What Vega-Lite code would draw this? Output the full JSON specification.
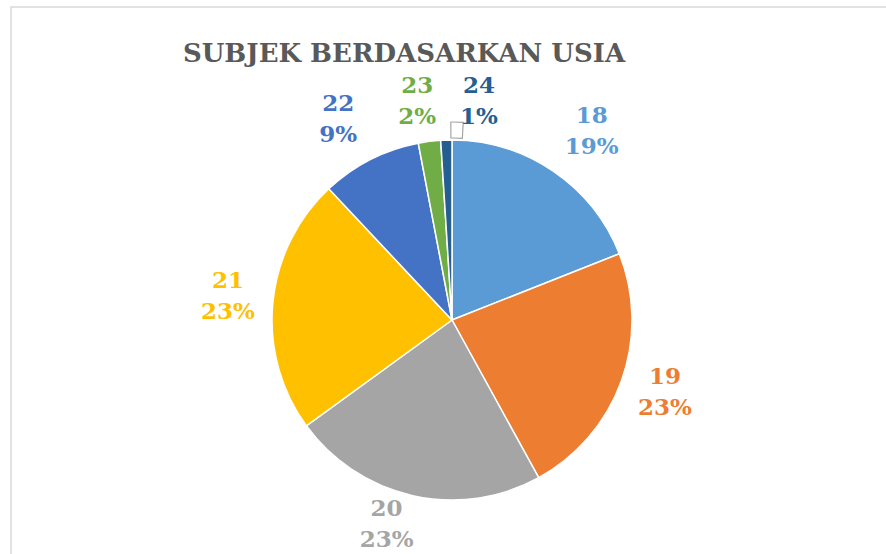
{
  "$schema": "https://vega.github.io/schema/vega-lite/v6.json",
  "autosize": "none",
  "width": 882,
  "height": 626,
  "padding": {"left": 11, "top": 7, "right": 0, "bottom": 0},
  "background": "white",
  "view": {"stroke": "#d9d9d9", "strokeWidth": 1.5},
  "title": {
    "text": "SUBJEK BERDASARKAN USIA",
    "font": "DejaVu Serif",
    "fontSize": 26,
    "fontWeight": "bold",
    "color": "#595959",
    "anchor": "middle",
    "baseline": "alphabetic",
    "offset": -81,
    "dx": -48
  },
  "data": {
    "values": [
      {"age": "18", "value": 19},
      {"age": "19", "value": 23},
      {"age": "20", "value": 23},
      {"age": "21", "value": 23},
      {"age": "22", "value": 9},
      {"age": "23", "value": 2},
      {"age": "24", "value": 1}
    ]
  },
  "transform": [
    {"calculate": "datum.age + '\\n' + datum.value + '%'", "as": "label"}
  ],
  "encoding": {
    "theta": {"field": "value", "type": "quantitative", "stack": true},
    "color": {
      "field": "age",
      "type": "nominal",
      "sort": ["18", "19", "20", "21", "22", "23", "24"],
      "scale": {
        "domain": ["18", "19", "20", "21", "22", "23", "24"],
        "range": ["#5B9BD5", "#ED7D31", "#A5A5A5", "#FFC000", "#4472C4", "#70AD47", "#255E91"]
      },
      "legend": null
    },
    "order": {"field": "age", "type": "ordinal"}
  },
  "layer": [
    {
      "mark": {"type": "arc", "outerRadius": 180, "stroke": "white", "strokeWidth": 1.5}
    },
    {
      "mark": {"type": "arc", "radius": 182, "radius2": 198, "thetaOffset": 0.0568, "theta2Offset": -0.0628, "fill": null, "filled": false, "stroke": "#a6a6a6", "strokeWidth": 1.2},
      "encoding": {
        "color": {"value": "#a6a6a6"},
        "opacity": {"condition": {"test": "datum.age == '24'", "value": 1}, "value": 0}
      }
    },
    {
      "mark": {
        "type": "text",
        "radius": 222,
        "font": "DejaVu Serif",
        "fontSize": 23,
        "fontWeight": "bold",
        "lineBreak": "\n",
        "lineHeight": 31,
        "align": "center",
        "baseline": "middle",
        "dx": {"expr": "datum.age=='18'?15:datum.age=='19'?4:datum.age=='20'?-17:datum.age=='21'?-3:datum.age=='22'?-13:datum.age=='23'?-7:34"},
        "dy": {"expr": "datum.age=='18'?-20:datum.age=='19'?-18:datum.age=='20'?-28:datum.age=='21'?-18:datum.age=='22'?-18:datum.age=='23'?-14:-12"}
      },
      "encoding": {
        "text": {"field": "label", "type": "nominal"}
      }
    }
  ]
}
